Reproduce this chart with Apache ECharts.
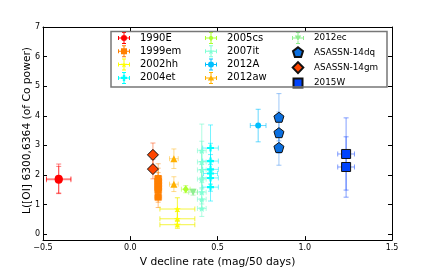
<!DOCTYPE html>
<html><head><meta charset="utf-8">
<script src="https://cdn.jsdelivr.net/npm/echarts@6/dist/echarts.min.js"></script>
<style>html,body{margin:0;padding:0;background:#fff}#c{width:436px;height:273px}</style>
</head><body><div id="c"></div>
<script>
// ---- data (x = V decline rate, y = L([OI]) in % of Co power) ----
const x_1990E = [-0.41, -0.41];            const y_1990E = [1.87, 1.84];
const xe_1990E = [0.07, 0.07];             const ye_1990E = [0.5, 0.45];
const x_1999em = [0.16, 0.16, 0.16, 0.16, 0.16, 0.16];
const y_1999em = [1.88, 1.78, 1.68, 1.58, 1.48, 1.25];
const xe_1999em = [0.02, 0.02, 0.02, 0.02, 0.02, 0.02];
const ye_1999em = [0.5, 0.45, 0.4, 0.4, 0.4, 0.35];
const x_2002hh = [0.27, 0.27, 0.27];       const y_2002hh = [0.85, 0.52, 0.32];
const xe_2002hh = [0.1, 0.1, 0.1];         const ye_2002hh = [0.38, 0.25, 0.12];
const x_2004et = [0.46, 0.46, 0.46, 0.46, 0.46, 0.46];
const y_2004et = [2.91, 2.47, 2.19, 2.05, 1.9, 1.59];
const xe_2004et = [0.045, 0.045, 0.045, 0.04, 0.045, 0.045];
const ye_2004et = [0.78, 0.6, 0.5, 0.45, 0.45, 0.47];
const x_2005cs = [0.318];                  const y_2005cs = [1.52];
const xe_2005cs = [0.025];                 const ye_2005cs = [0.12];
const x_2007it = [0.41, 0.41, 0.41, 0.41, 0.41, 0.41, 0.41];
const y_2007it = [2.82, 2.44, 2.17, 1.86, 1.42, 1.18, 0.87];
const xe_2007it = [0.025, 0.025, 0.025, 0.025, 0.025, 0.025, 0.025];
const ye_2007it = [0.9, 0.7, 0.6, 0.5, 0.4, 0.35, 0.27];
const x_2012A = [0.733];                   const y_2012A = [3.67];
const xe_2012A = [0.045];                  const ye_2012A = [0.55];
const x_2012aw = [0.25, 0.25];             const y_2012aw = [2.55, 1.69];
const xe_2012aw = [0.025, 0.025];          const ye_2012aw = [0.33, 0.25];
const x_2012ec = [0.36];                   const y_2012ec = [1.42];
const xe_2012ec = [0.025];                 const ye_2012ec = [0.1];
const x_14dq = [0.852, 0.852, 0.852];      const y_14dq = [3.95, 3.43, 2.93];
const xe_14dq = [0, 0, 0];                 const ye_14dq = [0.8, 0.7, 0.6];
const x_14gm = [0.13, 0.13];               const y_14gm = [2.68, 2.2];
const xe_14gm = [0, 0];                    const ye_14gm = [0.4, 0.33];
const x_2015W = [1.237, 1.237];            const y_2015W = [2.71, 2.27];
const xe_2015W = [0.048, 0.048];           const ye_2015W = [1.22, 1.02];

const xTicks = [-0.5, 0, 0.5, 1.0, 1.5];
const yTicks = [0, 1, 2, 3, 4, 5, 6, 7];
const xTitle = 'V decline rate (mag/50 days)';
const yTitle = 'L([OI] 6300,6364 (of Co power)';

// ---- styling ----
const FONT = 'DejaVu Sans';
const CROSS = 'M0 5.5H12V6.5H0Z M5.5 0H6.5V12H5.5Z M0 4H1V8H0Z M11 4H12V8H11Z M4 0H8V1H4Z M4 11H8V12H4Z ';
const CORNERS = 'M0 0L0 0Z M12 12L12 12Z ';
const M = {
  circle: 'M9 6A3 3 0 1 1 3 6A3 3 0 1 1 9 6Z',
  square: 'M3 3H9V9H3Z',
  star: 'M6 2.6L6.8 5.1L9.3 5.1L7.2 6.5L8 9L6 7.5L4 9L4.8 6.5L2.7 5.1L5.2 5.1Z',
  plus: 'M4.8 3H7.2V4.8H9V7.2H7.2V9H4.8V7.2H3V4.8H4.8Z',
  diamond: 'M6 2.5L8.5 6L6 9.5L3.5 6Z',
  triUp: 'M6 3L9.2 8.5H2.8Z',
  triDown: 'M2.8 3.5H9.2L6 9Z'
};
const SYM = {
  star: 'path://M5 0L6.2 3.6L10 3.6L6.9 5.8L8.1 9.5L5 7.2L1.9 9.5L3.1 5.8L0 3.6L3.8 3.6Z',
  plus: 'path://M3.5 0H6.5V3.5H10V6.5H6.5V10H3.5V6.5H0V3.5H3.5Z',
  triDown: 'path://M0 0L10 0L5 9Z',
  pentagon: 'path://M5 0L10 3.8L8.1 10L1.9 10L0 3.8Z'
};
const BIG = {
  pentagon: 'path://' + CORNERS + 'M6 1L11 4.8L9.1 10.7L2.9 10.7L1 4.8Z',
  diamond: 'path://' + CORNERS + 'M6 0.5L11.3 6L6 11.5L0.7 6Z',
  square: 'path://' + CORNERS + 'M1.5 1.5H10.5V10.5H1.5Z'
};

const defs = [
  {name:'1990E', x:x_1990E, y:y_1990E, xe:xe_1990E, ye:ye_1990E, color:'#ff0000', err:'rgba(255,0,0,0.5)', symbol:'circle', size:8, icon:M.circle},
  {name:'1999em', x:x_1999em, y:y_1999em, xe:xe_1999em, ye:ye_1999em, color:'#ff7f00', err:'rgba(255,127,0,0.5)', symbol:'rect', size:7, icon:M.square},
  {name:'2002hh', x:x_2002hh, y:y_2002hh, xe:xe_2002hh, ye:ye_2002hh, color:'#ffff00', err:'rgba(240,240,0,0.75)', symbol:SYM.star, size:7, icon:M.star},
  {name:'2004et', x:x_2004et, y:y_2004et, xe:xe_2004et, ye:ye_2004et, color:'#00ffff', err:'rgba(0,235,255,0.55)', symbol:SYM.plus, size:7, icon:M.plus},
  {name:'2005cs', x:x_2005cs, y:y_2005cs, xe:xe_2005cs, ye:ye_2005cs, color:'#adff2f', err:'rgba(173,255,47,0.55)', symbol:'diamond', size:[6,8], icon:M.diamond},
  {name:'2007it', x:x_2007it, y:y_2007it, xe:xe_2007it, ye:ye_2007it, color:'#7fffd4', err:'rgba(110,250,200,0.55)', symbol:SYM.star, size:7, icon:M.star},
  {name:'2012A', x:x_2012A, y:y_2012A, xe:xe_2012A, ye:ye_2012A, color:'#00bfff', err:'rgba(0,191,255,0.6)', symbol:'circle', size:6, icon:M.circle},
  {name:'2012aw', x:x_2012aw, y:y_2012aw, xe:xe_2012aw, ye:ye_2012aw, color:'#ffb000', err:'rgba(255,176,0,0.45)', symbol:'triangle', size:7, icon:M.triUp},
  {name:'2012ec', x:x_2012ec, y:y_2012ec, xe:xe_2012ec, ye:ye_2012ec, color:'#90ee90', err:'rgba(144,238,144,0.6)', symbol:SYM.triDown, size:7, icon:M.triDown},
  {name:'ASASSN-14dq', x:x_14dq, y:y_14dq, xe:xe_14dq, ye:ye_14dq, color:'#0a6fe0', err:'rgba(40,130,240,0.45)', symbol:SYM.pentagon, size:10, border:true, legendIcon:BIG.pentagon},
  {name:'ASASSN-14gm', x:x_14gm, y:y_14gm, xe:xe_14gm, ye:ye_14gm, color:'#ff4500', err:'rgba(255,69,0,0.5)', symbol:'diamond', size:11, border:true, legendIcon:BIG.diamond},
  {name:'2015W', x:x_2015W, y:y_2015W, xe:xe_2015W, ye:ye_2015W, color:'#0044ff', err:'rgba(30,80,255,0.55)', symbol:'rect', size:9, border:true, legendIcon:BIG.square}
];

function errRender(color) {
  return function (params, api) {
    const x = api.value(0), y = api.value(1), xe = api.value(2), ye = api.value(3);
    const cap = 2.5;
    const st = {stroke: color, lineWidth: 1, fill: null};
    const ch = [];
    if (ye > 0) {
      const t = api.coord([x, y + ye]), b = api.coord([x, y - ye]);
      ch.push({type:'line', shape:{x1:t[0], y1:t[1], x2:b[0], y2:b[1]}, style:st});
      ch.push({type:'line', shape:{x1:t[0]-cap, y1:t[1], x2:t[0]+cap, y2:t[1]}, style:st});
      ch.push({type:'line', shape:{x1:b[0]-cap, y1:b[1], x2:b[0]+cap, y2:b[1]}, style:st});
    }
    if (xe > 0) {
      const l = api.coord([x - xe, y]), r = api.coord([x + xe, y]);
      ch.push({type:'line', shape:{x1:l[0], y1:l[1], x2:r[0], y2:r[1]}, style:st});
      ch.push({type:'line', shape:{x1:l[0], y1:l[1]-cap, x2:l[0], y2:l[1]+cap}, style:st});
      ch.push({type:'line', shape:{x1:r[0], y1:r[1]-cap, x2:r[0], y2:r[1]+cap}, style:st});
    }
    return {type:'group', children: ch};
  };
}

const series = [];
defs.forEach(d => {
  series.push({
    type:'custom', name: d.name + ' err', renderItem: errRender(d.err), z: 1, silent: true,
    data: d.x.map((v, i) => [v, d.y[i], d.xe[i], d.ye[i]]),
    encode: {x: 0, y: 1}
  });
});
defs.forEach(d => {
  series.push({
    type:'scatter', name: d.name, symbol: d.symbol, symbolSize: d.size, z: d.border ? 4 : 3,
    itemStyle: {color: d.color, opacity: 1, borderColor: d.border ? '#111' : undefined, borderWidth: d.border ? 1 : 0},
    data: d.x.map((v, i) => [v, d.y[i]])
  });
});

function legendFor(items, left, fs) {
  return {
    orient:'vertical', left: left, top: 32, padding: 0, itemWidth: 12, itemHeight: 12, itemGap: 1.3,
    selectedMode: false,
    textStyle: {fontFamily: FONT, fontSize: fs, color: '#000', padding: [0, 0, 0, 5]},
    data: items.map(d => ({name: d.name, icon: d.icon ? 'path://' + CROSS + d.icon : d.legendIcon}))
  };
}

const axisCommon = {
  axisLine: {show: true, onZero: false, lineStyle: {color: '#000', width: 1}},
  axisTick: {show: true, inside: true, length: 4, lineStyle: {color: '#000'}},
  splitLine: {show: false}
};

const chart = echarts.init(document.getElementById('c'), null, {renderer: 'canvas'});
chart.setOption({
  animation: false,
  backgroundColor: '#fff',
  grid: {left: 43, right: 44, top: 27, bottom: 28, containLabel: false},
  xAxis: [
    Object.assign({}, axisCommon, {
      type:'value', min: xTicks[0], max: xTicks[xTicks.length - 1], interval: 0.5, position: 'bottom',
      axisLabel: {fontFamily: FONT, fontSize: 8, color: '#000', margin: 4,
        formatter: v => v.toFixed(1).replace('-', '\u2212')},
      name: xTitle, nameLocation: 'middle', nameGap: 12,
      nameTextStyle: {fontFamily: FONT, fontSize: 10.7, color: '#000', verticalAlign: 'top'}
    }),
    Object.assign({}, axisCommon, {
      type:'value', min: xTicks[0], max: xTicks[xTicks.length - 1], interval: 0.5, position: 'top',
      axisLabel: {show: false}
    })
  ],
  yAxis: [
    Object.assign({}, axisCommon, {
      type:'value', min: -0.2, max: 7, position: 'left',
      axisTick: {show: true, inside: true, length: 4, lineStyle: {color: '#000'}, customValues: yTicks},
      axisLabel: {fontFamily: FONT, fontSize: 8, color: '#000', margin: 3, customValues: yTicks}
    }),
    Object.assign({}, axisCommon, {
      type:'value', min: -0.2, max: 7, position: 'right',
      axisTick: {show: true, inside: true, length: 4, lineStyle: {color: '#000'}, customValues: yTicks},
      axisLabel: {show: false}
    })
  ],
  legend: [
    legendFor(defs.slice(0, 4), 118, 10),
    legendFor(defs.slice(4, 8), 205, 10),
    legendFor(defs.slice(8, 12), 291, 8.8)
  ],
  graphic: [
    {type:'rect', shape:{x:111, y:31.5, width:276, height:55.5}, style:{fill:null, stroke:'#777', lineWidth:1.5}, z:50, silent:true},
    {type:'text', x: 27, y: 130.5, rotation: Math.PI / 2, style:{text: yTitle, fontFamily: FONT, fontSize: 10.7, fill:'#000', align:'center', verticalAlign:'middle'}, silent:true}
  ],
  series: series
});
</script>
</body></html>
